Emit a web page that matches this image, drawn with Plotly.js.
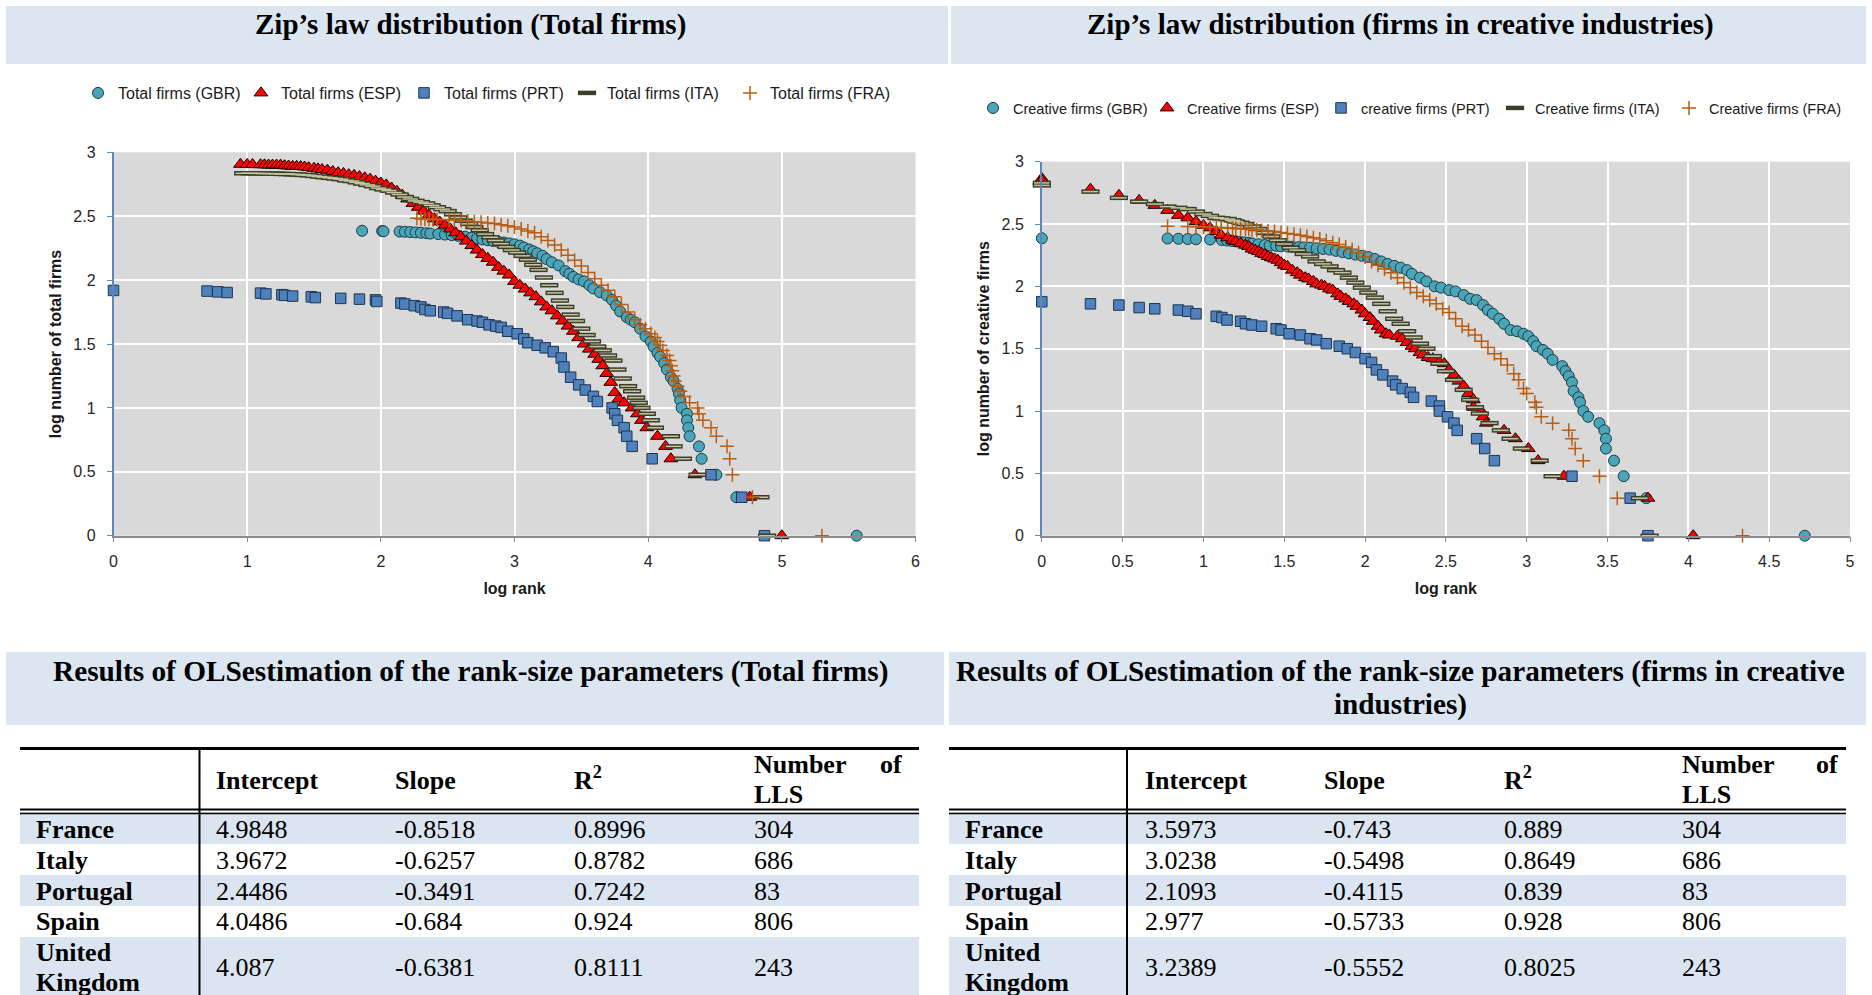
<!DOCTYPE html>
<html><head><meta charset="utf-8">
<script src="https://cdn.plot.ly/plotly-3.0.1.min.js"></script>
<style>html,body{margin:0;padding:0;background:#fff;} #chart{width:1872px;height:995px;}</style>
</head><body><div id="chart"></div>
<script>
// ---------------- DATA: Zipf plot, total firms ----------------
const totGBR_x = [1.86,2.01,2.02,2.14,2.18,2.22,2.26,2.30,2.34,2.37,2.43,2.48,2.53,2.58,2.63,2.68,2.72,2.76,2.80,2.84,2.88,2.92,2.96,3.00,3.04,3.07,3.11,3.14,3.17,3.21,3.24,3.28,3.33,3.38,3.41,3.44,3.48,3.52,3.56,3.59,3.64,3.69,3.73,3.76,3.79,3.84,3.87,3.90,3.94,3.98,4.02,4.04,4.07,4.09,4.12,4.14,4.17,4.19,4.22,4.23,4.24,4.25,4.29,4.29,4.30,4.31,4.38,4.40,4.51,4.66,5.56];
const totGBR_y = [2.386,2.384,2.382,2.38,2.378,2.376,2.373,2.37,2.367,2.364,2.36,2.356,2.352,2.346,2.34,2.333,2.326,2.318,2.312,2.306,2.30,2.294,2.287,2.28,2.27,2.255,2.24,2.225,2.21,2.19,2.165,2.14,2.115,2.07,2.05,2.025,2.005,1.99,1.96,1.935,1.905,1.88,1.845,1.80,1.755,1.71,1.69,1.67,1.62,1.56,1.52,1.48,1.43,1.40,1.35,1.30,1.24,1.21,1.15,1.11,1.06,1.0,0.954,0.903,0.845,0.778,0.699,0.602,0.477,0.301,0];

const totESP_x = [0.95,1.0,1.04,1.10,1.13,1.16,1.19,1.22,1.25,1.28,1.31,1.34,1.37,1.40,1.43,1.46,1.50,1.53,1.56,1.60,1.64,1.68,1.72,1.76,1.80,1.84,1.88,1.92,1.96,2.00,2.04,2.08,2.12,2.16,2.20,2.24,2.28,2.32,2.36,2.40,2.44,2.48,2.52,2.56,2.60,2.64,2.68,2.72,2.76,2.80,2.84,2.88,2.92,2.96,3.00,3.04,3.08,3.12,3.16,3.20,3.24,3.28,3.32,3.36,3.40,3.44,3.48,3.52,3.56,3.60,3.63,3.66,3.69,3.72,3.75,3.78,3.82,3.88,3.92,3.95,3.99,4.07,4.13,4.17,4.35,4.76,5.00];
const totESP_y = [2.906,2.905,2.904,2.903,2.902,2.90,2.90,2.90,2.90,2.895,2.893,2.89,2.89,2.888,2.885,2.88,2.875,2.87,2.865,2.86,2.85,2.84,2.835,2.825,2.82,2.81,2.80,2.79,2.775,2.76,2.745,2.72,2.695,2.665,2.635,2.60,2.57,2.54,2.51,2.48,2.455,2.43,2.40,2.37,2.34,2.305,2.27,2.235,2.20,2.17,2.14,2.10,2.07,2.04,1.99,1.96,1.93,1.90,1.87,1.83,1.79,1.76,1.72,1.68,1.64,1.60,1.55,1.50,1.46,1.42,1.38,1.33,1.27,1.20,1.12,1.07,1.04,1.0,0.954,0.903,0.845,0.778,0.699,0.602,0.477,0.301,0];

const totPRT_x = [0,0.70,0.78,0.85,1.10,1.14,1.26,1.28,1.34,1.48,1.51,1.70,1.84,1.96,1.97,2.15,2.18,2.25,2.30,2.33,2.37,2.47,2.50,2.57,2.65,2.72,2.76,2.81,2.86,2.90,2.95,3.02,3.07,3.10,3.17,3.23,3.29,3.35,3.37,3.42,3.48,3.53,3.59,3.62,3.73,3.75,3.77,3.82,3.84,3.88,4.03,4.47,4.70,4.87];
const totPRT_y = [1.919,1.914,1.908,1.903,1.898,1.892,1.886,1.881,1.875,1.869,1.863,1.857,1.851,1.845,1.833,1.82,1.813,1.80,1.79,1.77,1.76,1.75,1.74,1.72,1.69,1.68,1.67,1.65,1.64,1.63,1.60,1.58,1.54,1.51,1.49,1.47,1.44,1.39,1.32,1.24,1.18,1.14,1.09,1.05,1.0,0.954,0.903,0.845,0.778,0.699,0.602,0.477,0.301,0];

const totITA_x = [0.97,1.02,1.07,1.12,1.17,1.22,1.26,1.30,1.34,1.38,1.42,1.46,1.50,1.54,1.58,1.62,1.66,1.70,1.74,1.78,1.82,1.86,1.90,1.94,1.98,2.02,2.06,2.10,2.14,2.18,2.22,2.26,2.30,2.34,2.38,2.42,2.46,2.50,2.54,2.58,2.62,2.66,2.70,2.74,2.78,2.82,2.86,2.90,2.94,2.98,3.02,3.06,3.10,3.14,3.18,3.22,3.26,3.30,3.34,3.38,3.42,3.46,3.50,3.54,3.58,3.62,3.66,3.70,3.74,3.77,3.81,3.85,3.88,3.91,3.93,3.95,3.99,4.02,4.05,4.17,4.19,4.26,4.37,4.84,4.89];
const totITA_y = [2.836,2.836,2.835,2.834,2.833,2.832,2.831,2.83,2.828,2.826,2.823,2.82,2.815,2.81,2.805,2.80,2.795,2.79,2.78,2.775,2.765,2.755,2.745,2.735,2.72,2.71,2.70,2.685,2.67,2.65,2.635,2.62,2.61,2.60,2.585,2.57,2.555,2.54,2.515,2.49,2.465,2.44,2.415,2.39,2.36,2.335,2.31,2.285,2.26,2.235,2.215,2.19,2.16,2.12,2.08,2.02,1.96,1.90,1.84,1.79,1.73,1.68,1.62,1.57,1.52,1.48,1.45,1.41,1.37,1.30,1.23,1.17,1.13,1.08,1.04,1.0,0.954,0.903,0.845,0.778,0.699,0.602,0.477,0.301,0];

const totFRA_x = [2.27,2.30,2.33,2.36,2.39,2.42,2.51,2.55,2.60,2.65,2.70,2.75,2.80,2.85,2.90,2.95,3.00,3.05,3.10,3.15,3.20,3.25,3.30,3.35,3.40,3.45,3.50,3.55,3.60,3.65,3.70,3.75,3.80,3.85,3.90,3.94,3.98,4.02,4.05,4.07,4.09,4.11,4.14,4.16,4.17,4.18,4.19,4.20,4.22,4.24,4.27,4.31,4.37,4.38,4.41,4.47,4.51,4.59,4.61,4.63,4.78,5.30];
const totFRA_y = [2.483,2.481,2.479,2.477,2.475,2.474,2.472,2.47,2.466,2.462,2.457,2.452,2.447,2.442,2.434,2.425,2.415,2.40,2.385,2.37,2.34,2.31,2.275,2.235,2.195,2.155,2.11,2.06,2.01,1.96,1.92,1.87,1.81,1.75,1.69,1.65,1.62,1.58,1.55,1.52,1.49,1.45,1.41,1.37,1.33,1.29,1.25,1.21,1.17,1.13,1.09,1.04,1.0,0.954,0.903,0.845,0.778,0.699,0.602,0.477,0.301,0];

// ---------------- DATA: Zipf plot, creative firms ----------------
const creGBR_x = [0,0.778,0.845,0.903,0.954,1.041,1.114,1.146,1.176,1.204,1.23,1.255,1.28,1.30,1.34,1.38,1.41,1.45,1.48,1.52,1.55,1.59,1.62,1.66,1.70,1.74,1.78,1.82,1.86,1.90,1.94,1.98,2.02,2.06,2.10,2.14,2.18,2.22,2.26,2.29,2.34,2.38,2.43,2.47,2.52,2.56,2.61,2.65,2.69,2.73,2.76,2.79,2.83,2.86,2.90,2.94,2.98,3.01,3.04,3.06,3.10,3.13,3.16,3.22,3.24,3.26,3.28,3.29,3.32,3.33,3.35,3.38,3.45,3.48,3.49,3.49,3.54,3.60,3.74,4.72];
const creGBR_y = [2.386,2.384,2.382,2.38,2.378,2.376,2.372,2.368,2.364,2.36,2.356,2.352,2.348,2.344,2.338,2.332,2.328,2.325,2.322,2.32,2.318,2.315,2.312,2.31,2.305,2.30,2.295,2.285,2.275,2.265,2.255,2.245,2.235,2.22,2.20,2.18,2.165,2.15,2.13,2.10,2.07,2.04,2.00,1.99,1.97,1.96,1.93,1.90,1.89,1.85,1.81,1.78,1.74,1.70,1.65,1.64,1.62,1.60,1.56,1.52,1.49,1.46,1.41,1.36,1.32,1.28,1.23,1.16,1.11,1.07,1.0,0.954,0.903,0.845,0.778,0.699,0.602,0.477,0.301,0];

const creESP_x = [0,0,0.301,0.477,0.602,0.699,0.778,0.845,0.903,0.954,1.0,1.04,1.08,1.11,1.15,1.18,1.20,1.23,1.26,1.28,1.30,1.32,1.34,1.36,1.38,1.40,1.42,1.44,1.46,1.48,1.50,1.52,1.55,1.58,1.60,1.63,1.65,1.68,1.70,1.73,1.75,1.78,1.80,1.83,1.85,1.88,1.90,1.93,1.95,1.98,2.00,2.03,2.05,2.08,2.10,2.13,2.15,2.20,2.23,2.26,2.29,2.31,2.34,2.36,2.39,2.42,2.46,2.49,2.52,2.55,2.58,2.61,2.64,2.67,2.67,2.72,2.73,2.75,2.86,2.93,3.01,3.07,3.23,3.75,4.03];
const creESP_y = [2.866,2.85,2.78,2.73,2.69,2.65,2.61,2.57,2.55,2.52,2.49,2.47,2.44,2.41,2.39,2.37,2.36,2.345,2.33,2.32,2.30,2.29,2.28,2.265,2.255,2.24,2.23,2.22,2.21,2.19,2.17,2.16,2.13,2.11,2.09,2.07,2.06,2.04,2.02,2.01,2.00,1.98,1.97,1.94,1.92,1.90,1.88,1.86,1.84,1.81,1.78,1.75,1.72,1.68,1.65,1.62,1.61,1.60,1.58,1.55,1.52,1.50,1.47,1.45,1.43,1.42,1.39,1.38,1.33,1.29,1.24,1.20,1.14,1.09,1.03,0.995,0.954,0.903,0.845,0.778,0.699,0.602,0.477,0.301,0];

const crePRT_x = [0,0.301,0.477,0.602,0.699,0.845,0.903,0.954,1.079,1.114,1.146,1.23,1.26,1.30,1.36,1.45,1.48,1.53,1.60,1.66,1.70,1.76,1.84,1.89,1.94,2.00,2.04,2.07,2.11,2.17,2.19,2.23,2.28,2.30,2.41,2.46,2.46,2.51,2.55,2.57,2.69,2.74,2.80,3.28,3.64,3.75];
const crePRT_y = [1.877,1.86,1.85,1.83,1.82,1.81,1.80,1.78,1.76,1.75,1.73,1.72,1.70,1.69,1.68,1.66,1.65,1.62,1.61,1.58,1.57,1.54,1.52,1.50,1.47,1.42,1.39,1.33,1.29,1.24,1.21,1.18,1.15,1.11,1.08,1.04,1.0,0.954,0.903,0.845,0.778,0.699,0.602,0.477,0.301,0];

const creITA_x = [0,0,0.301,0.477,0.602,0.699,0.778,0.845,0.903,0.954,1.0,1.04,1.08,1.11,1.15,1.18,1.20,1.23,1.26,1.30,1.34,1.38,1.42,1.46,1.50,1.54,1.58,1.62,1.66,1.70,1.74,1.78,1.82,1.86,1.90,1.94,1.98,2.02,2.06,2.10,2.14,2.18,2.22,2.26,2.30,2.34,2.38,2.42,2.46,2.50,2.55,2.61,2.65,2.68,2.71,2.77,2.84,2.90,2.97,3.08,3.16,3.70,3.76];
const creITA_y = [2.83,2.81,2.76,2.71,2.68,2.66,2.64,2.63,2.62,2.60,2.58,2.565,2.55,2.545,2.54,2.53,2.52,2.51,2.50,2.48,2.46,2.43,2.40,2.37,2.34,2.31,2.29,2.26,2.24,2.20,2.18,2.16,2.13,2.11,2.07,2.03,1.99,1.95,1.91,1.86,1.80,1.74,1.70,1.64,1.59,1.54,1.50,1.44,1.38,1.32,1.25,1.17,1.09,1.03,0.98,0.903,0.845,0.778,0.699,0.602,0.477,0.301,0];

const creFRA_x = [0.778,0.903,0.954,1.0,1.04,1.08,1.11,1.15,1.18,1.20,1.23,1.26,1.28,1.30,1.33,1.36,1.40,1.44,1.48,1.52,1.56,1.60,1.64,1.68,1.72,1.76,1.80,1.84,1.88,1.92,1.96,2.00,2.04,2.08,2.12,2.16,2.20,2.24,2.28,2.32,2.36,2.40,2.44,2.48,2.52,2.56,2.60,2.64,2.68,2.72,2.76,2.80,2.84,2.88,2.92,2.95,2.98,3.00,3.05,3.06,3.09,3.16,3.26,3.28,3.30,3.35,3.45,3.56,4.335];
const creFRA_y = [2.483,2.48,2.478,2.476,2.474,2.472,2.47,2.468,2.466,2.464,2.462,2.46,2.458,2.455,2.452,2.449,2.445,2.44,2.432,2.425,2.418,2.41,2.40,2.39,2.38,2.365,2.35,2.335,2.315,2.295,2.27,2.235,2.20,2.17,2.14,2.11,2.07,2.03,1.99,1.95,1.92,1.89,1.86,1.82,1.79,1.74,1.68,1.65,1.61,1.56,1.51,1.46,1.42,1.37,1.30,1.25,1.18,1.14,1.07,1.03,0.954,0.903,0.845,0.778,0.699,0.602,0.477,0.301,0];

// ---------------- DATA: OLS tables ----------------
const countries = ['France','Italy','Portugal','Spain','United Kingdom'];
const tableHeaders = ['Intercept','Slope','R<sup>2</sup>'];
const totIntercept = ['4.9848','3.9672','2.4486','4.0486','4.087'];
const totSlope = ['-0.8518','-0.6257','-0.3491','-0.684','-0.6381'];
const totR2 = ['0.8996','0.8782','0.7242','0.924','0.8111'];
const creIntercept = ['3.5973','3.0238','2.1093','2.977','3.2389'];
const creSlope = ['-0.743','-0.5498','-0.4115','-0.5733','-0.5552'];
const creR2 = ['0.889','0.8649','0.839','0.928','0.8025'];
const nLLS = ['304','686','83','806','243'];

// ---------------- LAYOUT HELPERS ----------------
const W = 1872, H = 995;
const px = v => v / W;
const py = v => 1 - v / H;
const SANS = "'Liberation Sans', Arial, sans-serif";
const SERIF = "'Liberation Serif', 'Times New Roman', serif";

const C = {
  gbr: '#4aa5b8', gbrLine: '#1c3b44',
  esp: '#ff0000', espLine: '#1a0000',
  prt: '#4f81bd', prtLine: '#1e3552',
  itaDark: '#3c3e2c', itaLight: '#c6c49c',
  fra: '#b85d12'
};

function series(xa, ya, xs, ys, name, kind, legendId, showleg) {
  const base = {type:'scatter', mode:'markers', x:xa, y:ya, xaxis:xs, yaxis:ys, name:name,
    legend:legendId, cliponaxis:false, hoverinfo:'x+y+name', showlegend: showleg !== false};
  if (kind==='gbr') base.marker = {symbol:'circle', size:11, color:C.gbr, line:{color:C.gbrLine, width:1}};
  if (kind==='esp') base.marker = {symbol:'triangle-up', size:12, color:C.esp, line:{color:C.espLine, width:1}};
  if (kind==='prt') base.marker = {symbol:'square', size:10.5, color:C.prt, line:{color:C.prtLine, width:1}};
  if (kind==='itaD') base.marker = {symbol:'line-ew', size:13, color:C.itaDark, line:{color:C.itaDark, width:4.5}};
  if (kind==='itaL') base.marker = {symbol:'line-ew', size:11, color:C.itaLight, line:{color:C.itaLight, width:1.5}};
  if (kind==='fra') base.marker = {symbol:'cross-thin', size:10, color:C.fra, line:{color:C.fra, width:1.5}};
  return base;
}

const traces = [
  series(totGBR_x, totGBR_y, 'x','y','Total firms (GBR)','gbr','legend'),
  series(totESP_x, totESP_y, 'x','y','Total firms (ESP)','esp','legend'),
  series(totPRT_x, totPRT_y, 'x','y','Total firms (PRT)','prt','legend'),
  series(totITA_x, totITA_y, 'x','y','Total firms (ITA)','itaD','legend'),
  series(totITA_x, totITA_y, 'x','y','Total firms (ITA)','itaL','legend', false),
  series(totFRA_x, totFRA_y, 'x','y','Total firms (FRA)','fra','legend'),
  series(creGBR_x, creGBR_y, 'x2','y2','Creative firms (GBR)','gbr','legend2'),
  series(creESP_x, creESP_y, 'x2','y2','Creative firms (ESP)','esp','legend2'),
  series(crePRT_x, crePRT_y, 'x2','y2','creative firms (PRT)','prt','legend2'),
  series(creITA_x, creITA_y, 'x2','y2','Creative firms (ITA)','itaD','legend2'),
  series(creITA_x, creITA_y, 'x2','y2','Creative firms (ITA)','itaL','legend2', false),
  series(creFRA_x, creFRA_y, 'x2','y2','Creative firms (FRA)','fra','legend2')
];

const tickFont = {family:SANS, size:16, color:'#262626'};
const axTitleFont = {family:SANS, size:16, color:'#1a1a1a', weight:'bold'};
function xAxis(domain, range, dtick, anchor) {
  return {domain:domain, range:range, dtick:dtick, tick0:0, anchor:anchor, showgrid:true, gridcolor:'#ffffff', gridwidth:1.6,
    zeroline:false, showline:true, linecolor:'#8c8c8c', linewidth:1.5, ticks:'outside', ticklen:5, tickcolor:'#8c8c8c',
    tickfont:tickFont, ticklabelstandoff:5, automargin:false, fixedrange:true,
    title:{text:'log rank', font:axTitleFont, standoff:14}};
}
function yAxis(domain, title, anchor) {
  return {domain:domain, range:[0,3], dtick:0.5, tick0:0, anchor:anchor, showgrid:true, gridcolor:'#ffffff', gridwidth:1.6,
    zeroline:false, showline:true, linecolor:'#5b86c0', linewidth:1.5, ticks:'outside', ticklen:5, tickcolor:'#5b86c0',
    tickfont:tickFont, ticklabelstandoff:8, automargin:false, fixedrange:true,
    title:{text:title, font:axTitleFont, standoff:8}};
}

const shapes = [];
const annotations = [];
function rect(x0,y0,x1,y1,fill,layer){ shapes.push({type:'rect', xref:'paper', yref:'paper', x0:px(x0), x1:px(x1), y0:py(y1), y1:py(y0), fillcolor:fill, line:{width:0}, layer:layer||'below'}); }
function hline(x0,x1,y,w){ shapes.push({type:'line', xref:'paper', yref:'paper', x0:px(x0), x1:px(x1), y0:py(y), y1:py(y), line:{color:'#000', width:w}, layer:'above'}); }
function vline(x,y0,y1,w){ shapes.push({type:'line', xref:'paper', yref:'paper', x0:px(x), x1:px(x), y0:py(y0), y1:py(y1), line:{color:'#000', width:w}, layer:'above'}); }
function txt(t,x,y,opts){ opts=opts||{}; annotations.push({text:t, xref:'paper', yref:'paper', x:px(x), y:py(y), xanchor:opts.xa||'left', yanchor:'middle', showarrow:false,
  font:{family:opts.fam||SERIF, size:opts.size||26, color:'#000', weight:opts.bold?'bold':'normal'}}); }

// title bands
const BAND = '#dce6f1';
rect(6,6,948,64,BAND); rect(951,6,1866,64,BAND);
rect(6,652,944,725,BAND); rect(949,652,1866,725,BAND);
txt('Zip’s law distribution (Total firms)', 470, 25, {xa:'center', size:29, bold:true});
txt('Zip’s law distribution (firms in creative industries)', 1400, 25, {xa:'center', size:29, bold:true});
txt('Results of OLSestimation of the rank-size parameters (Total firms)', 470, 671, {xa:'center', size:29.3, bold:true});
txt('Results of OLSestimation of the rank-size parameters (firms in creative', 1400, 671, {xa:'center', size:29.2, bold:true});
txt('industries)', 1400, 704, {xa:'center', size:29.2, bold:true});

// tables
function buildTable(L, R, vx, cols, intercept, slope, r2, lls) {
  const rowY = [829, 860, 891, 921, 967];
  const rowBands = [[812,844],[875,906],[937,995]];
  rowBands.forEach(b => rect(L, b[0], R, b[1], '#dbe5f1'));
  hline(L, R, 748.5, 3);
  hline(L, R, 809.5, 2);
  hline(L, R, 813.5, 1.5);
  vline(vx, 748, 995, 2);
  txt(tableHeaders[0], cols[0], 780, {bold:true});
  txt(tableHeaders[1], cols[1], 780, {bold:true});
  txt(tableHeaders[2], cols[2], 778, {bold:true});
  txt('Number', cols[3], 764, {bold:true});
  txt('of', cols[4], 764, {bold:true, xa:'right'});
  txt('LLS', cols[3], 794, {bold:true});
  countries.forEach((c, i) => {
    if (c.indexOf(' ') > 0) {
      const parts = c.split(' ');
      txt(parts[0], L + 14, 952, {bold:true});
      txt(parts[1], L + 14, 982, {bold:true});
    } else {
      txt(c, L + 14, rowY[i], {bold:true});
    }
    txt(intercept[i], cols[0], rowY[i]);
    txt(slope[i], cols[1], rowY[i]);
    txt(r2[i], cols[2], rowY[i]);
    txt(lls[i], cols[3], rowY[i]);
  });
}
buildTable(20, 919, 199.5, [214, 393, 572, 752, 904], totIntercept, totSlope, totR2, nLLS);
buildTable(949, 1846, 1127, [1143, 1322, 1502, 1680, 1840], creIntercept, creSlope, creR2, nLLS);

const layout = {
  width: W, height: H,
  margin: {l:0, r:0, t:0, b:0, pad:0},
  paper_bgcolor: '#ffffff', plot_bgcolor: '#d9d9d9',
  font: {family:SANS, color:'#1a1a1a'},
  xaxis: xAxis([px(113.5), px(915.5)], [0,6], 1, 'y'),
  yaxis: yAxis([py(535.7), py(152.3)], 'log number of total firms', 'x'),
  xaxis2: xAxis([px(1041.8), px(1850)], [0,5], 0.5, 'y2'),
  yaxis2: yAxis([py(535.7), py(161.7)], 'log number of creative firms', 'x2'),
  legend: {orientation:'h', x:px(78), xanchor:'left', y:py(93), yanchor:'middle', bgcolor:'rgba(0,0,0,0)',
    font:{family:SANS, size:16, color:'#1a1a1a'}, entrywidth:118, entrywidthmode:'pixels', itemclick:false, itemdoubleclick:false},
  legend2: {orientation:'h', x:px(973), xanchor:'left', y:py(108), yanchor:'middle', bgcolor:'rgba(0,0,0,0)',
    font:{family:SANS, size:14.5, color:'#1a1a1a'}, entrywidth:129, entrywidthmode:'pixels', itemclick:false, itemdoubleclick:false},
  shapes: shapes,
  annotations: annotations,
  hovermode: 'closest'
};

Plotly.newPlot('chart', traces, layout, {displayModeBar:false, responsive:false});
</script>
</body></html>
